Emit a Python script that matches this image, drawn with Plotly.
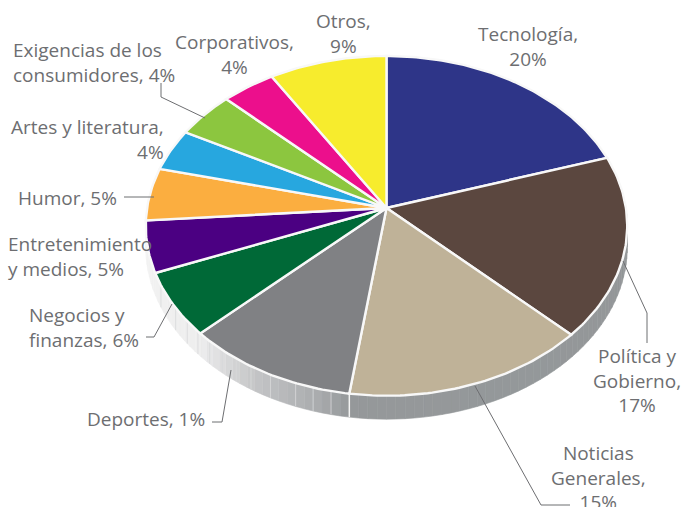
import numpy as np
import plotly.graph_objects as go

# Data
categories = ["Tecnología", "Política y Gobierno", "Noticias Generales", "Deportes",
              "Negocios y finanzas", "Entretenimiento y medios", "Humor",
              "Artes y literatura", "Exigencias de los consumidores", "Corporativos", "Otros"]
slice_shares = [20.0, 17.3, 14.9, 10.6, 6.1, 4.9, 5.0, 4.0, 4.4, 4.0, 8.75]
slice_colors = ["#2e3588", "#5b473f", "#bfb298", "#808184", "#006937", "#4b0082",
                "#fbae40", "#27a7df", "#8cc63f", "#ec0f8c", "#f7ec2d"]
printed_percent = [20, 17, 15, 1, 6, 5, 5, 4, 4, 4, 9]

# Label blocks: (text lines, x, y, anchor)
label_lines = [
    ["Tecnología,", f"{printed_percent[0]}%"],
    ["Política y", "Gobierno,", f"{printed_percent[1]}%"],
    ["Noticias", "Generales,", f"{printed_percent[2]}%"],
    [f"Deportes, {printed_percent[3]}%"],
    ["Negocios y", f"finanzas, {printed_percent[4]}%"],
    ["Entretenimiento", f"y medios, {printed_percent[5]}%"],
    [f"Humor, {printed_percent[6]}%"],
    ["Artes y literatura,", f"{printed_percent[7]}%"],
    ["Exigencias de los", f"consumidores, {printed_percent[8]}%"],
    ["Corporativos,", f"{printed_percent[9]}%"],
    ["Otros,", f"{printed_percent[10]}%"],
]
label_x = [528, 637, 598, 205, 29, 8, 117, 164, 13, 234, 343]
label_y = [46, 380.5, 477.5, 419, 327, 256, 198, 139, 62, 54, 33]
label_anchor = ["center", "center", "center", "right", "left", "left", "right", "right", "left", "center", "center"]

leaders = [
    [(161, 83), (161, 97), (205, 118)],
    [(124, 197), (154, 197)],
    [(146, 337), (154, 337), (172, 304)],
    [(212, 422), (222, 422), (231, 370)],
    [(623, 261), (647, 313), (647, 343)],
    [(475, 386), (541, 505), (570, 505)],
]

rim_angles = [90, 188, 195, 210, 226, 250, 270]
rim_colors = ["#939799", "#95989a", "#aaacae", "#c4c5c7", "#eeeeee", "#f1f1f1", "#f6f6f6"]
rim_ticks = [188, 192, 196, 200, 206, 211, 215, 219, 223, 227, 231, 236, 244]

CX, CY, RX, RY, K, DEPTH = 386.5, 208, 239.4, 168.0, 0.105, 21.0


def project(deg):
    a = np.radians(np.asarray(deg, dtype=float))
    u, v = np.sin(a), np.cos(a)
    w = 1 + K * v
    return CX + RX * u / w, CY - RY * v / w, DEPTH / w


def hex2rgb(h):
    return np.array([int(h[i:i + 2], 16) for i in (1, 3, 5)], dtype=float)


def rim_color(deg):
    c = [np.interp(deg, rim_angles, [hex2rgb(h)[i] for h in rim_colors]) for i in range(3)]
    return "rgb(%d,%d,%d)" % tuple(int(round(x)) for x in c)


fig = go.Figure()

# Side wall of the disc
for a0 in np.arange(88, 272, 2.0):
    angs = np.linspace(a0, a0 + 2.0, 3)
    x, y, d = project(angs)
    xs = list(x) + list(x[::-1]) + [x[0]]
    ys = list(y) + list((y + d)[::-1]) + [y[0]]
    col = rim_color(a0 + 1)
    fig.add_trace(go.Scatter(x=xs, y=ys, mode="lines", fill="toself", fillcolor=col,
                             line=dict(color=col, width=0.6), hoverinfo="skip", showlegend=False))
for t in rim_ticks:
    x, y, d = project([t])
    fig.add_trace(go.Scatter(x=[x[0], x[0]], y=[y[0], y[0] + d[0]], mode="lines",
                             line=dict(color="#f4f4f4" if t == 188 else "#d8d9da", width=0.8 if t != 188 else 1.5),
                             hoverinfo="skip", showlegend=False))

# Slices, built from the shares
start = 0.0
total = sum(slice_shares)
for name, share, color in zip(categories, slice_shares, slice_colors):
    sweep = share / total * 360
    angs = np.linspace(start, start + sweep, max(int(sweep) + 2, 3))
    x, y, _ = project(angs)
    fig.add_trace(go.Scatter(x=[CX] + list(x) + [CX], y=[CY] + list(y) + [CY], mode="lines",
                             fill="toself", fillcolor=color, name=name,
                             line=dict(color="#f8f8f8", width=2.4), hoverinfo="name", showlegend=False))
    start += sweep

annotations = []
for lines, x, y, anc in zip(label_lines, label_x, label_y, label_anchor):
    annotations.append(dict(x=x, y=y, xref="x", yref="y", text="<br>".join(lines), showarrow=False,
                            xanchor=anc, yanchor="middle", align=anc, borderpad=0, borderwidth=0,
                            font=dict(family="Open Sans", size=19, color="#6d6e71")))

shapes = []
for pts in leaders:
    path = "M " + " L ".join(f"{px} {py}" for px, py in pts)
    shapes.append(dict(type="path", path=path, xref="x", yref="y", layer="above",
                       line=dict(color="#6d6e71", width=1)))

fig.update_layout(width=684, height=507, margin=dict(l=0, r=0, t=0, b=0),
                  paper_bgcolor="#ffffff", plot_bgcolor="#ffffff",
                  xaxis=dict(range=[0, 684], visible=False, fixedrange=True),
                  yaxis=dict(range=[507, 0], visible=False, fixedrange=True),
                  annotations=annotations, shapes=shapes, showlegend=False)

fig.write_html("out.html", config={"displayModeBar": False},
               post_script="document.body.style.margin='0';document.body.style.overflow='hidden';")
